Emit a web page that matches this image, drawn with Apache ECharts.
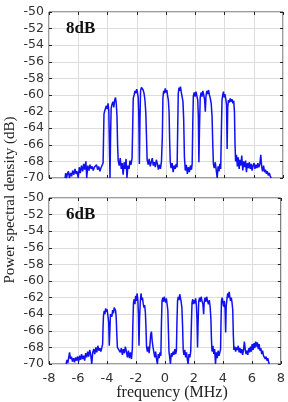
<!DOCTYPE html>
<html>
<head>
<meta charset="utf-8">
<script src="https://cdn.jsdelivr.net/npm/echarts@6/dist/echarts.min.js"></script>
<style>
  html, body { margin: 0; padding: 0; background: #fff; }
  #chart { width: 288px; height: 402px; }
</style>
</head>
<body>
<div id="chart"></div>
<script>
// axis ranges / ticks
const freqTicks = [-8, -6, -4, -2, 0, 2, 4, 6, 8];
const dbTicks = [-70, -68, -66, -64, -62, -60, -58, -56, -54, -52, -50];
const panelLabels = ['8dB', '6dB'];

// [frequency MHz, PSD dB]
const trace8dB = [
  [-6.9,-70],[-6.86,-69.4],[-6.8,-70],[-6.74,-69.5],[-6.67,-69.2],[-6.6,-70],[-6.52,-69.4],[-6.45,-69.8],[-6.38,-69.1],[-6.3,-69.6],[-6.22,-68.9],[-6.15,-69.5],[-6.08,-69.2],[-6.0,-70],[-5.93,-68.7],[-5.86,-69.4],[-5.78,-68.5],[-5.7,-69.2],[-5.63,-68.3],[-5.56,-69],[-5.48,-68],[-5.42,-70],[-5.35,-68.5],[-5.27,-69.1],[-5.2,-68.4],[-5.12,-68.9],[-5.05,-68.6],[-4.97,-69.1],[-4.9,-68.7],[-4.82,-68.9],[-4.75,-68.4],[-4.68,-69],[-4.6,-68.6],[-4.52,-69.2],[-4.45,-68.8],[-4.36,-69],[-4.3,-68.2],
  [-4.27,-65],[-4.24,-62.3],[-4.19,-61.9],[-4.14,-62.1],[-4.08,-61.3],[-4.02,-61.7],[-3.96,-61],[-3.91,-61.9],[-3.87,-66],[-3.83,-70],[-3.79,-65],[-3.75,-61.6],[-3.69,-61.1],[-3.63,-60.8],[-3.57,-61.5],[-3.51,-60.6],[-3.45,-60.3],[-3.4,-61],[-3.35,-62.6],[-3.31,-66],[-3.27,-67.9],
  [-3.2,-68.5],[-3.13,-67.6],[-3.06,-68.9],[-3.0,-68.2],[-2.93,-69.6],[-2.86,-68.1],[-2.8,-68.9],[-2.73,-67.7],[-2.67,-70],[-2.6,-68.5],[-2.53,-68.9],[-2.46,-67.9],[-2.39,-68.4],[-2.32,-67.6],
  [-2.28,-64],[-2.24,-60.4],[-2.18,-60],[-2.12,-59.5],[-2.06,-59.8],[-2.0,-59.3],[-1.95,-59.7],[-1.9,-60.3],[-1.86,-62.5],[-1.82,-68.3],[-1.78,-63],[-1.74,-59.5],[-1.68,-59.1],[-1.62,-58.9],[-1.56,-59.4],[-1.5,-59.8],[-1.44,-60.6],[-1.38,-62.2],[-1.33,-65.2],[-1.29,-67.8],
  [-1.22,-68.4],[-1.15,-67.7],[-1.08,-68.6],[-1.01,-68.1],[-0.94,-67.6],[-0.87,-68.5],[-0.8,-68.1],[-0.73,-68.7],[-0.66,-67.8],[-0.59,-68.3],[-0.52,-69],[-0.45,-68.4],[-0.38,-68.9],[-0.31,-68],
  [-0.25,-65],[-0.21,-60.3],[-0.16,-59.5],[-0.11,-59.8],[-0.05,-59.2],[0.0,-59.7],[0.06,-59.4],[0.11,-60.1],[0.16,-60.6],[0.21,-62],[0.25,-65.5],[0.29,-68],
  [0.35,-68.8],[0.42,-68.2],[0.49,-69.3],[0.56,-68.5],[0.63,-68.9],[0.7,-68.3],[0.76,-68.7],
  [0.8,-64],[0.84,-59.8],[0.89,-59.1],[0.94,-59.5],[0.99,-59],[1.04,-59.6],[1.1,-60.2],[1.16,-60.8],[1.21,-63],[1.26,-67.5],
  [1.32,-69.1],[1.39,-68.4],[1.46,-69.5],[1.53,-68.7],[1.6,-69.3],[1.67,-68.5],[1.74,-69],[1.79,-68.3],
  [1.83,-63.5],[1.87,-60.1],[1.93,-59.7],[1.99,-60.2],[2.05,-59.6],[2.11,-60.1],[2.17,-60.6],[2.21,-62.5],[2.25,-68.1],[2.29,-64],[2.34,-60.3],
  [2.4,-59.7],[2.46,-60.2],[2.52,-59.5],[2.58,-60],[2.64,-60.6],[2.69,-62],[2.73,-60.2],[2.79,-59.5],[2.85,-59.9],[2.91,-59.4],[2.97,-60],[3.03,-60.4],[3.09,-61],[3.15,-62.6],[3.2,-66],[3.24,-68.3],
  [3.3,-68.8],[3.37,-68.1],[3.43,-69],[3.5,-70],[3.56,-68.6],[3.62,-69.2],[3.68,-68.3],[3.74,-68.9],
  [3.79,-64],[3.83,-60.6],[3.88,-60],[3.93,-59.6],[3.98,-60.3],[4.03,-59.9],[4.09,-60.5],[4.14,-61.2],[4.18,-66.5],[4.22,-61.5],[4.27,-60.6],[4.33,-60.9],[4.39,-60.4],[4.45,-60.8],[4.51,-60.5],[4.57,-61],[4.63,-60.7],[4.68,-62],[4.72,-66],[4.76,-68],
  [4.82,-67.2],[4.88,-68.6],[4.94,-67.5],[5.0,-68.9],[5.06,-67.8],[5.12,-68.5],[5.18,-67.3],[5.25,-69.1],[5.31,-68],[5.38,-68.7],[5.44,-67.9],[5.5,-69.3],[5.57,-68.2],[5.63,-68.8],[5.7,-68.1],[5.76,-68.9],[5.82,-68.3],[5.89,-69.1],[5.95,-68.5],[6.02,-68.2],[6.08,-68.9],[6.15,-68.4],[6.22,-68.8],[6.28,-68.2],[6.35,-68.7],[6.42,-68.3],[6.48,-67.2],[6.54,-68.6],[6.6,-69.2],[6.67,-68.5],[6.74,-69.3],[6.8,-69],[6.87,-69.5],[6.93,-69.2],[7.0,-69.7],[7.07,-69.4],[7.13,-69.8],[7.2,-70]
];

const trace6dB = [
  [-6.82,-70],[-6.76,-69.5],[-6.7,-69.9],[-6.64,-69.2],[-6.58,-68.6],[-6.52,-69.4],[-6.45,-69.1],[-6.38,-69.7],[-6.31,-69.3],[-6.24,-69.8],[-6.17,-69.2],[-6.1,-69.6],[-6.03,-69.1],[-5.96,-69.7],[-5.89,-69],[-5.82,-69.5],[-5.75,-68.8],[-5.68,-69.4],[-5.61,-69],[-5.54,-69.6],[-5.47,-68.7],[-5.4,-69.2],[-5.33,-68.5],[-5.26,-69.1],[-5.19,-68.3],[-5.12,-68.9],[-5.05,-70],[-4.98,-68.6],[-4.91,-68.2],[-4.84,-68.8],[-4.77,-68],[-4.7,-68.6],[-4.63,-67.8],[-4.56,-68.4],[-4.49,-68.1],[-4.42,-68.5],[-4.35,-68],[-4.3,-67.6],
  [-4.27,-65.5],[-4.24,-64.2],[-4.19,-63.6],[-4.14,-64],[-4.09,-63.3],[-4.04,-63.7],[-3.99,-63.4],[-3.94,-64.1],[-3.88,-65],[-3.84,-67.8],[-3.8,-66],[-3.76,-64],[-3.71,-63.8],[-3.66,-64.3],[-3.61,-63.5],[-3.55,-63.9],[-3.5,-63.2],[-3.45,-63],[-3.4,-63.6],[-3.36,-64.5],[-3.32,-66.5],[-3.28,-68],
  [-3.22,-68.2],[-3.15,-67.8],[-3.08,-68.6],[-3.01,-68.1],[-2.94,-68.9],[-2.87,-68.2],[-2.8,-68.7],[-2.73,-67.9],[-2.66,-68.5],[-2.59,-69.2],[-2.52,-68.4],[-2.45,-69.3],[-2.38,-68.6],[-2.31,-69.4],[-2.25,-68.2],
  [-2.21,-65],[-2.17,-62.6],[-2.12,-62.2],[-2.07,-62.8],[-2.02,-61.8],[-1.97,-62.4],[-1.92,-61.5],[-1.87,-62.3],[-1.83,-64],[-1.79,-67.8],[-1.75,-64.5],[-1.7,-62.5],[-1.65,-61.5],[-1.6,-62.3],[-1.55,-62],[-1.5,-62.7],[-1.45,-63.2],[-1.4,-62.9],[-1.35,-63.8],[-1.31,-65.5],[-1.27,-67.9],
  [-1.21,-68.5],[-1.15,-67.9],[-1.09,-68.7],[-1.03,-67.6],[-0.98,-66.4],[-0.93,-66.1],[-0.88,-67.2],[-0.82,-68],[-0.76,-68.6],[-0.7,-69.2],[-0.64,-68.5],[-0.58,-69.4],[-0.52,-70],[-0.46,-68.8],[-0.4,-69.3],[-0.34,-68.6],[-0.28,-69],
  [-0.24,-65],[-0.2,-62.4],[-0.15,-62],[-0.1,-62.5],[-0.05,-61.9],[0.0,-62.3],[0.05,-62.6],[0.1,-62.1],[0.15,-62.8],[0.2,-63.5],[0.24,-66],[0.28,-68.5],
  [0.33,-69.2],[0.38,-70],[0.44,-68.7],[0.5,-69.1],[0.56,-68.5],[0.62,-68.9],[0.68,-68.2],[0.74,-68.8],[0.79,-68.4],
  [0.83,-65],[0.87,-62.4],[0.92,-61.9],[0.97,-62.3],[1.02,-61.6],[1.07,-62],[1.12,-62.5],[1.17,-63.2],[1.22,-65.5],[1.26,-68.3],
  [1.31,-68.9],[1.37,-68.3],[1.43,-69.2],[1.49,-68.6],[1.55,-69.5],[1.6,-70],[1.66,-68.8],[1.72,-69.2],[1.78,-68.5],
  [1.83,-65],[1.87,-62.6],[1.92,-62.2],[1.97,-62.8],[2.02,-62.3],[2.07,-62.7],[2.12,-62.1],[2.17,-62.9],[2.21,-64.5],[2.25,-68],[2.29,-65],[2.33,-62.5],
  [2.39,-62],[2.45,-62.5],[2.5,-61.9],[2.56,-62.4],[2.62,-62.8],[2.67,-64],[2.71,-62.6],[2.76,-62],[2.82,-62.5],[2.88,-61.9],[2.94,-62.4],[3.0,-62.8],[3.06,-62.3],[3.12,-63.1],[3.17,-64.5],[3.21,-67],[3.25,-68.5],
  [3.31,-67.8],[3.37,-68.8],[3.43,-68.2],[3.49,-70],[3.55,-68.6],[3.61,-69.3],[3.67,-68.4],[3.73,-69],[3.79,-68.6],[3.84,-68.2],
  [3.87,-65],[3.9,-62.4],[3.95,-62],[4.0,-62.6],[4.05,-63.1],[4.1,-62.4],[4.15,-63.4],[4.19,-66.2],[4.23,-63],[4.28,-62.2],[4.33,-61.5],[4.38,-62],[4.43,-61.3],[4.48,-61.9],[4.53,-62.4],[4.58,-62],[4.63,-62.6],[4.68,-63.5],[4.72,-66.5],[4.76,-68.3],
  [4.82,-67.9],[4.88,-68.5],[4.94,-68],[5.0,-68.3],[5.06,-67.8],[5.12,-68.6],[5.18,-68.1],[5.24,-68.7],[5.3,-68.2],[5.36,-68.9],[5.42,-68.4],[5.48,-67.3],[5.54,-68.2],[5.6,-68.8],[5.66,-68.4],[5.72,-68.9],[5.78,-68.1],[5.84,-68.6],[5.9,-67.9],[5.96,-68.5],[6.02,-67.6],[6.08,-68.3],[6.14,-67.5],[6.2,-68.1],[6.26,-67.3],[6.32,-67.9],[6.38,-67.4],[6.44,-68.2],[6.5,-67.6],[6.56,-68.4],[6.62,-68.1],[6.68,-68.8],[6.74,-68.4],[6.8,-69],[6.86,-68.8],[6.92,-69.4],[6.98,-69.1],[7.04,-69.6],[7.1,-69.3],[7.16,-69.8],[7.2,-70]
];

const traces = [trace8dB, trace6dB];

const chart = echarts.init(document.getElementById('chart'), null, { renderer: 'canvas' });

const labelFont = { fontFamily: 'DejaVu Sans', fontSize: 12.5, color: '#333' };
const gridColor = '#dcdcdc';
const frameColor = '#3a3a3a';
const panelTops = [12, 198];
const panelH = 166;

const grids = panelTops.map((top) => ({
  left: 49,
  top,
  width: 234,
  height: panelH,
  show: true,
  borderColor: frameColor,
  borderWidth: 1,
  backgroundColor: '#fff',
}));

const xAxes = [];
const yAxes = [];
panelTops.forEach((_, i) => {
  const base = {
    gridIndex: i,
    type: 'value',
    min: freqTicks[0],
    max: freqTicks[freqTicks.length - 1],
    interval: 2,
    axisLine: { show: false, onZero: false },
    axisTick: { show: true, inside: true, length: 3, lineStyle: { color: '#222' } },
  };
  // bottom axis
  xAxes.push({
    ...base,
    position: 'bottom',
    axisLabel: i === 1 ? { ...labelFont, fontSize: 13, margin: 8 } : { show: false },
    splitLine: { show: true, lineStyle: { color: gridColor, width: 1 } },
  });
  // top axis, ticks only
  xAxes.push({
    ...base,
    position: 'top',
    axisLabel: { show: false },
    splitLine: { show: false },
  });

  const ybase = {
    gridIndex: i,
    type: 'value',
    min: dbTicks[0],
    max: dbTicks[dbTicks.length - 1],
    interval: 2,
    axisLine: { show: false, onZero: false },
    axisTick: { show: true, inside: true, length: 3, lineStyle: { color: '#222' } },
  };
  yAxes.push({
    ...ybase,
    position: 'left',
    axisLabel: { ...labelFont, margin: 5 },
    splitLine: { show: true, lineStyle: { color: gridColor, width: 1 } },
  });
  yAxes.push({
    ...ybase,
    position: 'right',
    axisLabel: { show: false },
    splitLine: { show: false },
  });
});

const series = traces.map((data, i) => ({
  type: 'line',
  xAxisIndex: i * 2,
  yAxisIndex: i * 2,
  data,
  showSymbol: false,
  clip: true,
  lineStyle: { color: '#1010f0', width: 1.5 },
  z: 3,
}));

const graphics = panelLabels.map((txt, i) => ({
  type: 'text',
  left: 66,
  top: panelTops[i] + 8,
  style: {
    text: txt,
    font: 'bold 17px "Liberation Serif", "DejaVu Serif", serif',
    fill: '#111',
  },
  z: 10,
}));

graphics.push({
  type: 'text',
  x: 10,
  y: 200,
  rotation: Math.PI / 2,
  style: {
    text: 'Power spectral density (dB)',
    font: '15px "Liberation Serif", "DejaVu Serif", serif',
    fill: '#222',
    textAlign: 'center',
    textVerticalAlign: 'middle',
  },
});
graphics.push({
  type: 'text',
  x: 172,
  y: 393,
  style: {
    text: 'frequency (MHz)',
    font: '16px "Liberation Serif", "DejaVu Serif", serif',
    fill: '#222',
    textAlign: 'center',
    textVerticalAlign: 'middle',
  },
});

chart.setOption({
  animation: false,
  backgroundColor: '#fff',
  grid: grids,
  xAxis: xAxes,
  yAxis: yAxes,
  series,
  graphic: graphics,
});
</script>
</body>
</html>
